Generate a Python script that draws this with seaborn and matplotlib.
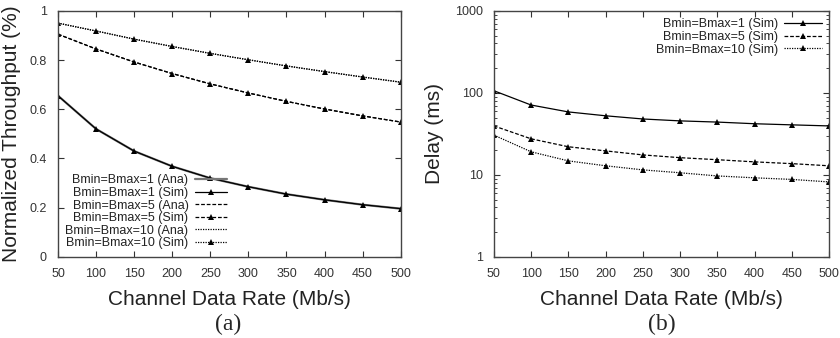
import numpy as np
import pandas as pd
import matplotlib
matplotlib.use('Agg')
import matplotlib.pyplot as plt
import seaborn as sns

rates = [50, 100, 150, 200, 250, 300, 350, 400, 450, 500]

# (a) normalized throughput
thr_b1 = [0.655, 0.52, 0.43, 0.368, 0.32, 0.285, 0.255, 0.232, 0.212, 0.196]
thr_b5 = [0.905, 0.845, 0.792, 0.745, 0.703, 0.666, 0.632, 0.601, 0.573, 0.548]
thr_b10 = [0.95, 0.918, 0.885, 0.855, 0.827, 0.801, 0.776, 0.753, 0.731, 0.71]

# (b) delay (ms)
dly_b1 = [106, 71, 58.5, 52.5, 48, 45.5, 44, 42, 40.7, 39.5]
dly_b5 = [39.5, 27.5, 22, 19.6, 17.5, 16.2, 15.3, 14.4, 13.7, 12.9]
dly_b10 = [30.5, 19.1, 14.8, 12.9, 11.5, 10.6, 9.7, 9.2, 8.8, 8.2]

sns.set_style('ticks')
plt.rcParams['font.family'] = ['Liberation Sans', 'DejaVu Sans']

fig = plt.figure(figsize=(8.4, 3.38), dpi=100)
ax1 = fig.add_axes([0.069, 0.24, 0.408, 0.728])
ax2 = fig.add_axes([0.588, 0.24, 0.399, 0.728])

styles = [('1', '-', thr_b1, dly_b1), ('5', (0, (3, 1.5)), thr_b5, dly_b5),
          ('10', (0, (1, 1)), thr_b10, dly_b10)]

for b, ls, thr, _ in styles:
    df = pd.DataFrame({'rate': rates, 'val': thr})
    sns.lineplot(data=df, x='rate', y='val', ax=ax1, color='#777777' if b == '1' else 'black',
                 linestyle=ls, linewidth=1.6 if b == '1' else 0.9,
                 label=f'Bmin=Bmax={b} (Ana)')
    sns.lineplot(data=df, x='rate', y='val', ax=ax1, color='black', linestyle=ls,
                 linewidth=0.9, marker='^', markersize=4, markeredgewidth=0,
                 label=f'Bmin=Bmax={b} (Sim)')

for b, ls, _, dly in styles:
    df = pd.DataFrame({'rate': rates, 'val': dly})
    sns.lineplot(data=df, x='rate', y='val', ax=ax2, color='black', linestyle=ls,
                 linewidth=0.9, marker='^', markersize=4, markeredgewidth=0,
                 label=f'Bmin=Bmax={b} (Sim)')

ax2.set_yscale('log')

for ax in (ax1, ax2):
    ax.set_xlim(50, 500)
    ax.set_xticks(rates)
    ax.tick_params(direction='in', top=True, right=True, labelsize=9, length=4,
                   colors='#333333', pad=8)
    ax.tick_params(which='minor', direction='in', right=True, length=2)
    for s in ax.spines.values():
        s.set_linewidth(1.0)
        s.set_color('#444444')
    ax.set_xlabel('Channel Data Rate (Mb/s)', fontsize=15, color='#222222', labelpad=7)

ax1.set_ylim(0, 1)
ax1.set_yticks([0, 0.2, 0.4, 0.6, 0.8, 1])
ax1.set_yticklabels(['0', '0.2', '0.4', '0.6', '0.8', '1'])
ax1.set_ylabel('Normalized Throughput (%)', fontsize=15, color='#222222', labelpad=6)

ax2.set_ylim(1, 1000)
ax2.set_yticks([1, 10, 100, 1000])
ax2.set_yticklabels(['1', '10', '100', '1000'])
ax2.set_ylabel('Delay (ms)', fontsize=15, color='#222222', labelpad=8)

leg1 = ax1.legend(loc='lower left', bbox_to_anchor=(0.0, 0.0), fontsize=9,
                  frameon=False, markerfirst=False, handlelength=2.6,
                  labelspacing=0.05, handletextpad=0.5, borderaxespad=0.2)
for t in leg1.get_texts():
    t.set_ha('right')
    t.set_color('#222222')
leg2 = ax2.legend(loc='upper right', fontsize=9, frameon=False, markerfirst=False,
                  handlelength=3.0, labelspacing=0.05, handletextpad=0.5,
                  borderaxespad=0.2)
for t in leg2.get_texts():
    t.set_color('#222222')

fig.text(0.272, 0.025, '(a)', fontsize=17, ha='center', family='Liberation Serif')
fig.text(0.788, 0.025, '(b)', fontsize=17, ha='center', family='Liberation Serif')

fig.savefig('out.png', dpi=100)
